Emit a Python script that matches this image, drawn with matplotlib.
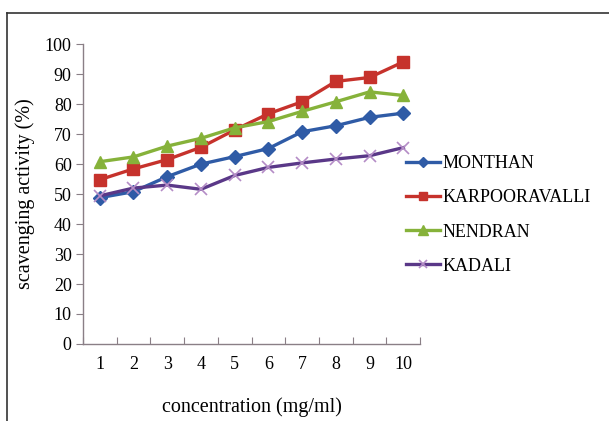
import numpy as np
import matplotlib.pyplot as plt
from matplotlib.lines import Line2D

# concentration (mg/ml) categories
conc = [1, 2, 3, 4, 5, 6, 7, 8, 9, 10]

# scavenging activity (%)
monthan = [48.8, 50.8, 55.8, 60.0, 62.5, 65.2, 70.8, 72.8, 75.6, 77.0]
karpooravalli = [54.8, 58.4, 61.5, 65.6, 71.4, 76.8, 80.8, 87.6, 88.9, 94.1]
nendran = [60.8, 62.4, 66.0, 68.6, 72.1, 74.2, 77.6, 80.8, 84.1, 82.9]
kadali = [49.4, 52.0, 53.0, 51.6, 56.2, 58.9, 60.4, 61.7, 62.8, 65.5]

plt.rcParams['font.family'] = ['Liberation Serif', 'DejaVu Serif']

fig = plt.figure(figsize=(6.09, 4.21), dpi=100)
ax = fig.add_axes([0.136, 0.183, 0.554, 0.712])

x = np.arange(1, len(conc) + 1)
ax.plot(x, monthan, color='#2F5BA6', lw=2.4, marker='D', ms=7, label='MONTHAN')
ax.plot(x, karpooravalli, color='#C6322C', lw=2.4, marker='s', ms=8.5, label='KARPOORAVALLI')
ax.plot(x, nendran, color='#86B23A', lw=2.4, marker='^', ms=9, label='NENDRAN')
ax.plot(x, kadali, color='#5A3888', lw=2.4, marker='x', ms=8, mec='#B48CC6', mew=1.2,
        label='KADALI')

ax.set_xlim(0.5, 10.5)
ax.set_ylim(0, 100)
ax.set_yticks(range(0, 101, 10))
ax.set_xticks(np.arange(0.5, 11, 1))
ax.set_xticklabels([])
ax.set_xticks(x, minor=True)
ax.set_xticklabels([str(c) for c in conc], minor=True)
ax.tick_params(axis='x', which='minor', length=0, pad=9, labelsize=13)
ax.tick_params(axis='x', which='major', direction='in', length=5, color='#8a7f86')
ax.tick_params(axis='y', direction='out', length=5, color='#8a7f86', labelsize=13, pad=3)

for s in ['top', 'right']:
    ax.spines[s].set_visible(False)
for s in ['left', 'bottom']:
    ax.spines[s].set_color('#8a7f86')
    ax.spines[s].set_linewidth(1.0)

ax.set_ylabel('scavenging activity (%)', fontsize=14.5, labelpad=7)
ax.set_xlabel('concentration (mg/ml)', fontsize=14.5, labelpad=17)

ax.legend(loc='center left', bbox_to_anchor=(0.91, 0.43), frameon=False, fontsize=13,
          handlelength=1.9, handletextpad=0.1, labelspacing=0.95, markerscale=0.75)

# outer frame lines (left and top)
fig.add_artist(Line2D([0.012, 0.012], [0.0, 0.969], color='#333333', lw=1.2))
fig.add_artist(Line2D([0.012, 1.0], [0.969, 0.969], color='#333333', lw=1.2))

fig.savefig('out.png', dpi=100)
